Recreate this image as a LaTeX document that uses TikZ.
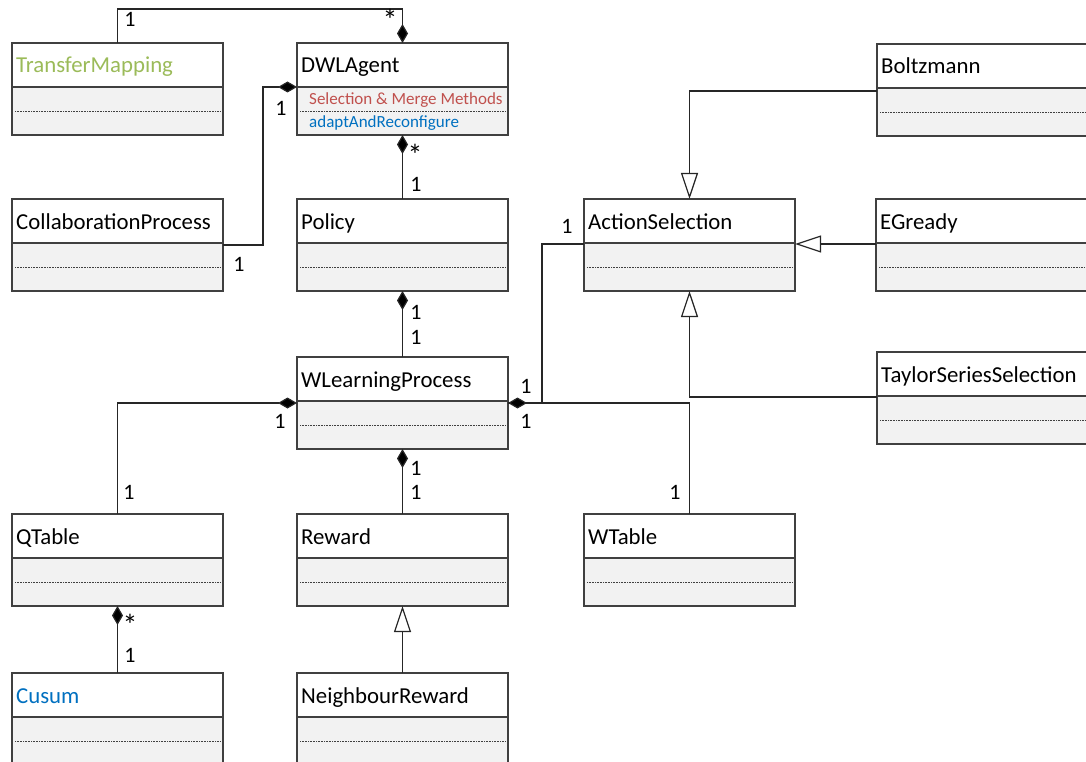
\documentclass[tikz,border=0pt]{standalone}
\usepackage{fontspec}
\setmainfont{Carlito}
\usetikzlibrary{arrows.meta}

\definecolor{edge}{HTML}{404040}
\definecolor{compfill}{HTML}{F2F2F2}
\definecolor{tmgreen}{HTML}{9BBB59}
\definecolor{opred}{HTML}{C0504D}
\definecolor{opblue}{HTML}{0070C0}

\tikzset{
  x=1pt, y=-1pt,
  classframe/.style={minimum width=211pt, minimum height=92pt, inner sep=0pt,
    outer sep=0pt, anchor=north west, fill=white},
  frameline/.style={draw=edge, line width=1.2pt},
  dotrule/.style={draw=black!75, line width=0.7pt, dash pattern=on 0.8pt off 0.8pt},
  classtitle/.style={font=\fontsize{22.8}{27}\selectfont, inner sep=0pt, anchor=base west},
  opstext/.style={font=\fontsize{17}{20}\selectfont, inner sep=0pt, anchor=base west},
  mult/.style={font=\fontsize{22}{26}\selectfont, inner sep=0pt, anchor=center},
  many/.style={font=\fontsize{30}{34}\selectfont, inner sep=0pt, anchor=center},
  conn/.style={draw=black!85, line width=1.2pt},
  agg/.tip={Diamond[length=19pt,width=11pt,fill=black]},
  gen/.tip={Triangle[open,length=26pt,width=17pt,fill=white]},
}

% a class box: white name compartment over a grey body split by a dotted rule
\newcommand{\umlclass}[3]{%
  \node[classframe] (#1) at (#2) {};
  \fill[compfill] ([yshift=-44pt]#1.north west) rectangle (#1.south east);
  \draw[frameline] ([yshift=-44pt]#1.north west) -- ([yshift=-44pt]#1.north east);
  \draw[dotrule] ([xshift=3pt,yshift=-68pt]#1.north west) -- ([xshift=-3pt,yshift=-68pt]#1.north east);
  \draw[frameline] (#1.north west) rectangle (#1.south east);
  \node[classtitle] (#1-title) at ([xshift=4pt,yshift=-30pt]#1.north west) {#3};
}

\begin{document}
\begin{tikzpicture}
\useasboundingbox (0,0) rectangle (1086,762);
\clip (0,0) rectangle (1086,762);

% classes
\umlclass{tm}{12,43}{\color{tmgreen}TransferMapping}
\umlclass{dwl}{297,43}{DWLAgent}
\umlclass{bz}{877,44}{Boltzmann}
\umlclass{cp}{12,199}{CollaborationProcess}
\umlclass{pol}{297,199}{Policy}
\umlclass{as}{584,199}{ActionSelection}
\umlclass{eg}{876,199}{EGready}
\umlclass{wlp}{297,357}{WLearningProcess}
\umlclass{tss}{877,352}{TaylorSeriesSelection}
\umlclass{qt}{12,514}{QTable}
\umlclass{rw}{297,514}{Reward}
\umlclass{wt}{584,514}{WTable}
\umlclass{cu}{12,673}{\color{opblue}Cusum}
\umlclass{nr}{297,673}{NeighbourReward}

% operations of DWLAgent
\node[opstext, text=opred] (dwl-sel) at ([xshift=12pt,yshift=-62pt]dwl.north west) {Selection \& Merge Methods};
\node[opstext, text=opblue] (dwl-adapt) at ([xshift=12pt,yshift=-85pt]dwl.north west) {adaptAndReconfigure};

% compositions
\draw[conn, -agg] (tm.north) -- ++(0,-34) -| (dwl.north);
\draw[conn, -agg] (cp.east) -- ++(40,0) |- ([yshift=2pt]dwl.west);
\draw[conn, agg-] (dwl.south) -- (pol.north);
\draw[conn, agg-] (pol.south) -- (wlp.north);
\draw[conn, agg-] (wlp.west) -| (qt.north);
\draw[conn] (wlp.east) -| (wt.north);
\draw[conn, agg-] (wlp.east) -- ++(34,0) |- ([yshift=1pt]as.west);
\draw[conn, agg-] (wlp.south) -- (rw.north);
\draw[conn, agg-] (qt.south) -- (cu.north);

% generalizations
\draw[conn, -gen] (nr.north) -- (rw.south);
\draw[conn, -gen] ([yshift=-1pt]bz.west) -| (as.north);
\draw[conn, -gen] ([yshift=1pt]eg.west) -- ([yshift=1pt]as.east);
\draw[conn, -gen] ([yshift=1pt]tss.west) -| (as.south);

% multiplicities
\node[mult] (m1) at (130,19.5) {1};
\node[many] (m2) at (390,20) {*};
\node[mult] (m3) at (281,108) {1};
\node[mult] (m4) at (239,264) {1};
\node[many] (m5) at (415,155) {*};
\node[mult] (m6) at (416,184) {1};
\node[mult] (m7) at (416,312) {1};
\node[mult] (m8) at (416,337) {1};
\node[mult] (m9) at (280,421) {1};
\node[mult] (m10) at (526,386) {1};
\node[mult] (m11) at (526,421) {1};
\node[mult] (m12) at (567,226) {1};
\node[mult] (m13) at (416,468) {1};
\node[mult] (m14) at (416,492) {1};
\node[mult] (m15) at (129,492) {1};
\node[mult] (m16) at (675,492) {1};
\node[many] (m17) at (130,625) {*};
\node[mult] (m18) at (130,655) {1};
\end{tikzpicture}
\end{document}
